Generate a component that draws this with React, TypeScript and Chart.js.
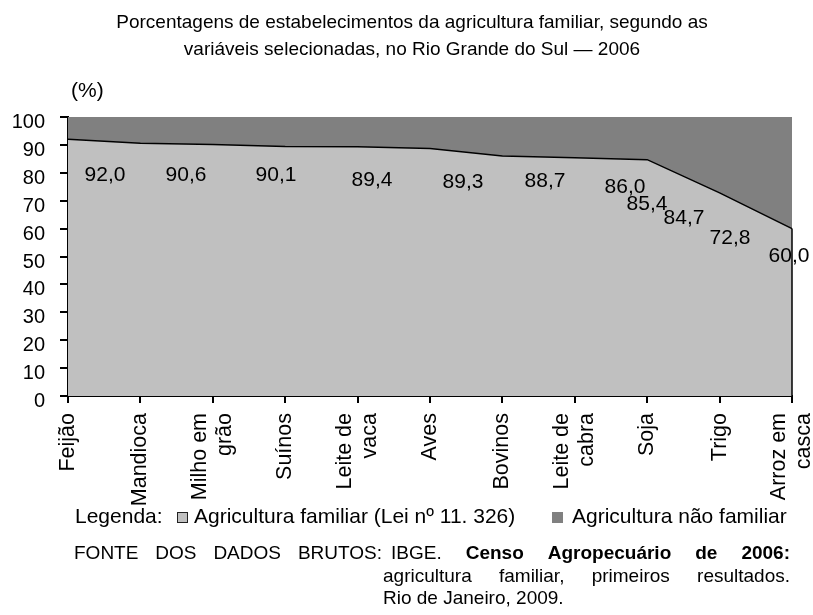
import React, { useEffect, useRef } from "react";
import { Chart, registerables } from "chart.js";

Chart.register(...registerables);

const categories: (string | string[])[] = [
  "Feijão",
  "Mandioca",
  ["Milho em", "grão"],
  "Suínos",
  ["Leite de", "vaca"],
  "Aves",
  "Bovinos",
  ["Leite de", "cabra"],
  "Soja",
  "Trigo",
  ["Arroz em", "casca"],
];
const familiar = [92.0, 90.6, 90.1, 89.4, 89.3, 88.7, 86.0, 85.4, 84.7, 72.8, 60.0];
const naoFamiliar = [8.0, 9.4, 9.9, 10.6, 10.7, 11.3, 14.0, 14.6, 15.3, 27.2, 40.0];
const valueLabels = ["92,0", "90,6", "90,1", "89,4", "89,3", "88,7", "86,0", "85,4", "84,7", "72,8", "60,0"];
// label nudges (styling only), in pixels relative to the point
const labelNudgeX = [37, 45.6, 63.2, 86.8, 105.4, 115, 122.6, 72.2, 36.8, 10.4, -3];
const labelNudgeY = [35.5, 32, 31, 33.5, 35, 33, 31.5, 46.5, 59, 45.5, 28];

const titleLines = [
  "Porcentagens de estabelecimentos da agricultura familiar, segundo as",
  "variáveis selecionadas, no Rio Grande do Sul — 2006",
];
const unitLabel = "(%)";
const legendLead = "Legenda:";
const legendNames = ["Agricultura familiar (Lei nº 11. 326)", "Agricultura não familiar"];
const sourceLead: [string, boolean][] = [
  ["FONTE", false], ["DOS", false], ["DADOS", false], ["BRUTOS:", false],
];
const sourceLine1: [string, boolean][] = [
  ["IBGE.", false], ["Censo", true], ["Agropecuário", true], ["de", true], ["2006:", true],
];
const sourceLine2 = ["agricultura", "familiar,", "primeiros", "resultados."];
const sourceLine3 = "Rio de Janeiro, 2009.";

const LIGHT = "#c0c0c0";
const DARK = "#808080";
const FONT = '"Liberation Sans", Arial, sans-serif';

function setFont(ctx: CanvasRenderingContext2D, size: number, bold = false) {
  ctx.font = `${bold ? "bold " : ""}${size}px ${FONT}`;
}
function textW(ctx: CanvasRenderingContext2D, t: string, size: number, bold = false) {
  setFont(ctx, size, bold);
  return ctx.measureText(t).width;
}
function text(
  ctx: CanvasRenderingContext2D, t: string, x: number, y: number, size: number,
  align: CanvasTextAlign = "left", bold = false
) {
  ctx.save();
  setFont(ctx, size, bold);
  ctx.textAlign = align;
  ctx.textBaseline = "alphabetic";
  ctx.fillStyle = "#000";
  ctx.fillText(t, x, y);
  ctx.restore();
}
function justify(
  ctx: CanvasRenderingContext2D, words: [string, boolean][], x0: number, x1: number, y: number, size: number
) {
  const widths = words.map(([w, b]) => textW(ctx, w, size, b));
  const total = widths.reduce((a, b) => a + b, 0);
  const gap = (x1 - x0 - total) / (words.length - 1);
  let x = x0;
  words.forEach(([w, b], i) => {
    text(ctx, w, x, y, size, "left", b);
    x += widths[i] + gap;
  });
}

const decorations = {
  id: "decorations",
  afterDraw(chart: any) {
    const ctx: CanvasRenderingContext2D = chart.ctx;
    const xs = chart.scales.x;
    const ys = chart.scales.y;
    const area = chart.chartArea;

    // title
    text(ctx, titleLines[0], 412, 28, 19, "center");
    text(ctx, titleLines[1], 412, 55, 19, "center");
    text(ctx, unitLabel, 71, 97, 21, "left");

    // closing edge of the area at the last category
    const last = familiar.length - 1;
    ctx.save();
    ctx.strokeStyle = "#000";
    ctx.lineWidth = 1.5;
    ctx.beginPath();
    ctx.moveTo(xs.getPixelForValue(last), ys.getPixelForValue(familiar[last]));
    ctx.lineTo(xs.getPixelForValue(last), ys.getPixelForValue(0));
    ctx.stroke();
    ctx.restore();

    // value labels
    ctx.save();
    ctx.font = `21px ${FONT}`;
    ctx.fillStyle = "#000";
    ctx.textAlign = "center";
    ctx.textBaseline = "middle";
    familiar.forEach((v, i) => {
      const x = xs.getPixelForValue(i) + labelNudgeX[i];
      const y = ys.getPixelForValue(v) + labelNudgeY[i];
      ctx.fillText(valueLabels[i], x, y);
    });
    ctx.restore();

    // category labels (rotated)
    ctx.save();
    ctx.font = `21.5px ${FONT}`;
    ctx.fillStyle = "#000";
    ctx.textAlign = "right";
    ctx.textBaseline = "middle";
    const lh = 25;
    categories.forEach((c, i) => {
      const lines = Array.isArray(c) ? c : [c];
      const x = xs.getPixelForTick(i);
      const y = area.bottom + 17;
      lines.forEach((ln, j) => {
        ctx.save();
        ctx.translate(x + (j - (lines.length - 1) / 2) * lh, y);
        ctx.rotate(-Math.PI / 2);
        ctx.fillText(ln, 0, 0);
        ctx.restore();
      });
    });
    ctx.restore();

    // legend
    const ly = 523;
    text(ctx, legendLead, 75, ly, 21);
    ctx.save();
    ctx.fillStyle = LIGHT;
    ctx.fillRect(177.5, 512.5, 10, 10);
    ctx.strokeStyle = "#222";
    ctx.lineWidth = 1;
    ctx.strokeRect(177.5, 512.5, 10, 10);
    ctx.fillStyle = DARK;
    ctx.fillRect(552, 512, 11, 11);
    ctx.restore();
    text(ctx, legendNames[0], 194, ly, 21);
    text(ctx, legendNames[1], 572, ly, 21);

    // source
    const sSize = 19;
    justify(ctx, sourceLead, 74, 382, 559, sSize);
    justify(ctx, sourceLine1, 391, 790, 559, sSize);
    justify(ctx, sourceLine2.map((w) => [w, false] as [string, boolean]), 383, 790, 582, sSize);
    text(ctx, sourceLine3, 383, 604, sSize);
  },
};

export default function App() {
  const ref = useRef<HTMLCanvasElement | null>(null);
  useEffect(() => {
    if (!ref.current) return;
    const chart = new Chart(ref.current, {
      type: "line",
      data: {
        labels: categories,
        datasets: [
          {
            label: legendNames[0],
            data: familiar,
            fill: "origin",
            backgroundColor: LIGHT,
            borderColor: "#000",
            borderWidth: 1.5,
            pointRadius: 0,
            tension: 0,
          },
          {
            label: legendNames[1],
            data: naoFamiliar,
            fill: "-1",
            backgroundColor: DARK,
            borderWidth: 0,
            borderColor: "rgba(0,0,0,0)",
            pointRadius: 0,
            tension: 0,
          },
        ],
      },
      plugins: [decorations],
      options: {
        animation: false,
        responsive: false,
        devicePixelRatio: 1,
        layout: { padding: { top: 117, right: 21, left: 0, bottom: 0 } },
        plugins: { legend: { display: false }, tooltip: { enabled: false }, title: { display: false } },
        scales: {
          x: {
            type: "category",
            offset: false,
            stacked: true,
            grid: { display: true, drawOnChartArea: false, drawTicks: true, tickLength: 7, color: "#000", lineWidth: 2 },
            border: { display: true, color: "#000", width: 2 },
            ticks: { display: false, autoSkip: false },
            afterFit: (s: any) => { s.height = 219; },
          },
          y: {
            stacked: true,
            min: 0,
            max: 100,
            grid: { display: true, drawOnChartArea: false, drawTicks: true, tickLength: 8, color: "#000", lineWidth: 2 },
            border: { display: true, color: "#000", width: 2 },
            ticks: {
              stepSize: 10,
              color: "#000",
              padding: 15,
              font: { family: FONT, size: 20, lineHeight: "11px" } as any,
              callback: (v: any) => ["", String(v)],
            },
            afterFit: (s: any) => { s.width = 68; },
          },
        },
      },
    });
    return () => chart.destroy();
  }, []);
  return (
    <div style={{ position: "absolute", left: 0, top: 0, width: 813, height: 615, background: "#fff" }}>
      <canvas ref={ref} width={813} height={615} style={{ width: 813, height: 615, display: "block" }} />
    </div>
  );
}
